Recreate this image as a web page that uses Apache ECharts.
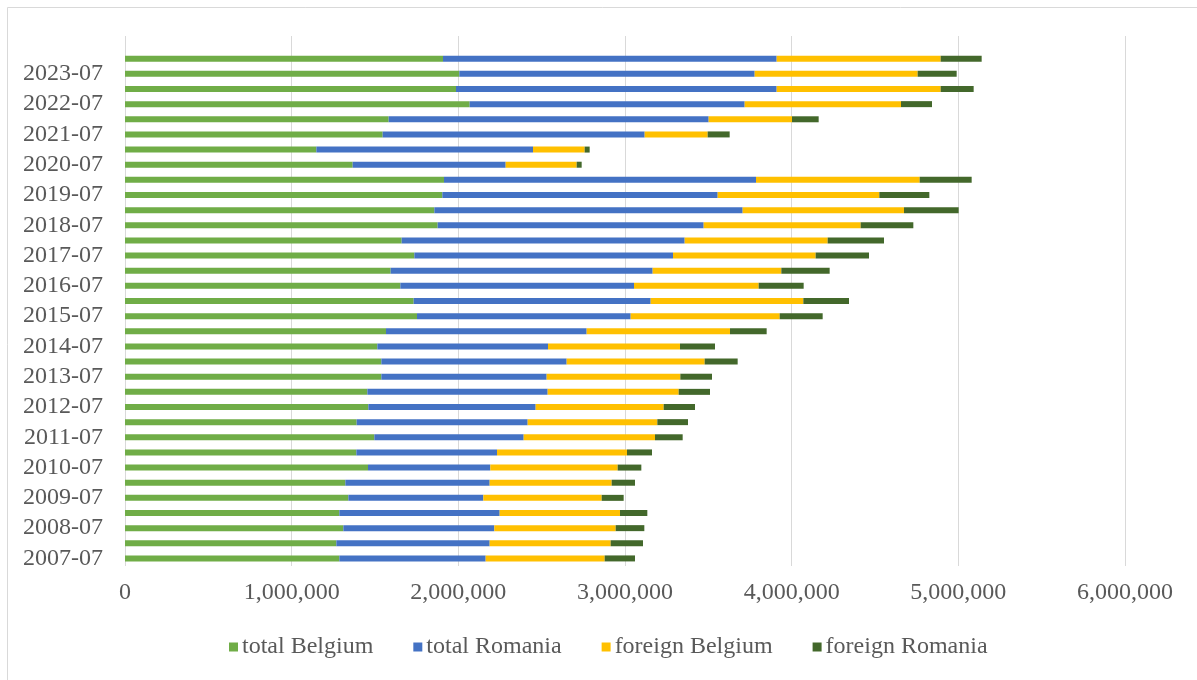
<!DOCTYPE html>
<html>
<head>
<meta charset="utf-8">
<title>Belgium / Romania totals</title>
<script src="https://cdn.jsdelivr.net/npm/echarts@6/dist/echarts.min.js"></script>
<style>
  html, body { margin: 0; padding: 0; background: #ffffff; }
  #chart { width: 1197px; height: 680px; }
</style>
</head>
<body>
<div id="chart"></div>
<script>
// Half-year periods, bottom to top; the last slot is an empty spacer row
const categories = [
  '2007-07','2008-01','2008-07','2009-01','2009-07','2010-01','2010-07','2011-01',
  '2011-07','2012-01','2012-07','2013-01','2013-07','2014-01','2014-07','2015-01',
  '2015-07','2016-01','2016-07','2017-01','2017-07','2018-01','2018-07','2019-01',
  '2019-07','2020-01','2020-07','2021-01','2021-07','2022-01','2022-07','2023-01',
  '2023-07','2024-01',''
];

const totalBelgium = [
  1286000,1268000,1310000,1286000,1340000,1322000,1458000,1388000,
  1496000,1390000,1460000,1454000,1538000,1538000,1514000,1566000,
  1752000,1732000,1652000,1594000,1736000,1660000,1876000,1856000,
  1904000,1914000,1366000,1148000,1546000,1582000,2068000,1986000,
  2006000,1908000
];
const totalRomania = [
  878000,920000,906000,962000,810000,866000,734000,844000,
  896000,1026000,1004000,1082000,992000,1112000,1024000,1204000,
  1282000,1422000,1402000,1572000,1552000,1698000,1596000,1850000,
  1652000,1872000,918000,1300000,1572000,1920000,1650000,1924000,
  1772000,2002000
];
const foreignBelgium = [
  714000,726000,728000,722000,710000,732000,764000,780000,
  788000,778000,768000,786000,802000,828000,792000,860000,
  894000,916000,748000,772000,856000,858000,942000,968000,
  970000,982000,426000,310000,378000,500000,938000,984000,
  978000,984000
];
const foreignRomania = [
  182000,194000,172000,164000,132000,140000,142000,150000,
  166000,184000,188000,188000,190000,198000,210000,220000,
  258000,274000,270000,290000,320000,338000,316000,328000,
  300000,312000,30000,30000,132000,160000,186000,198000,
  234000,246000
];

const xTicks = { min: 0, max: 6000000, step: 1000000 };

const seriesDefs = [
  { name: 'total Belgium',   data: totalBelgium,   color: '#70ad47' },
  { name: 'total Romania',   data: totalRomania,   color: '#4472c4' },
  { name: 'foreign Belgium', data: foreignBelgium, color: '#ffc000' },
  { name: 'foreign Romania', data: foreignRomania, color: '#43682b' }
];

const FONT = '"Liberation Serif", "Times New Roman", serif';
const TEXT = '#595959';
const SIZE = 24;

const chart = echarts.init(document.getElementById('chart'), null, { renderer: 'canvas' });

chart.setOption({
  animation: false,
  backgroundColor: '#ffffff',
  textStyle: { fontFamily: FONT },
  graphic: [{
    type: 'rect',
    silent: true,
    shape: { x: 7.5, y: 7.5, width: 1200, height: 700 },
    style: { fill: 'none', stroke: '#d9d9d9', lineWidth: 1 }
  }],
  legend: {
    bottom: 16,
    left: 224,
    itemWidth: 9,
    itemHeight: 9,
    itemGap: 40,
    icon: 'rect',
    textStyle: { fontFamily: FONT, fontSize: SIZE, color: TEXT, padding: [0, 0, 0, -1] },
    data: seriesDefs.map(s => s.name)
  },
  grid: { left: 125, right: 72, top: 36, bottom: 114, containLabel: false },
  xAxis: {
    type: 'value',
    min: xTicks.min,
    max: xTicks.max,
    interval: xTicks.step,
    axisLine: { show: false },
    axisTick: { show: false },
    splitLine: { show: true, lineStyle: { color: '#d9d9d9', width: 1 } },
    axisLabel: {
      margin: 15,
      fontFamily: FONT,
      fontSize: SIZE,
      color: TEXT,
      formatter: v => v.toLocaleString('en-US')
    }
  },
  yAxis: {
    type: 'category',
    data: categories,
    axisLine: { show: false },
    axisTick: { show: false },
    splitLine: { show: false },
    axisLabel: {
      interval: 1,
      margin: 22,
      fontFamily: FONT,
      fontSize: SIZE,
      color: TEXT
    }
  },
  series: seriesDefs.map(s => ({
    name: s.name,
    type: 'bar',
    stack: 'all',
    barWidth: 6,
    data: s.data,
    itemStyle: { color: s.color }
  }))
});
</script>
</body>
</html>
